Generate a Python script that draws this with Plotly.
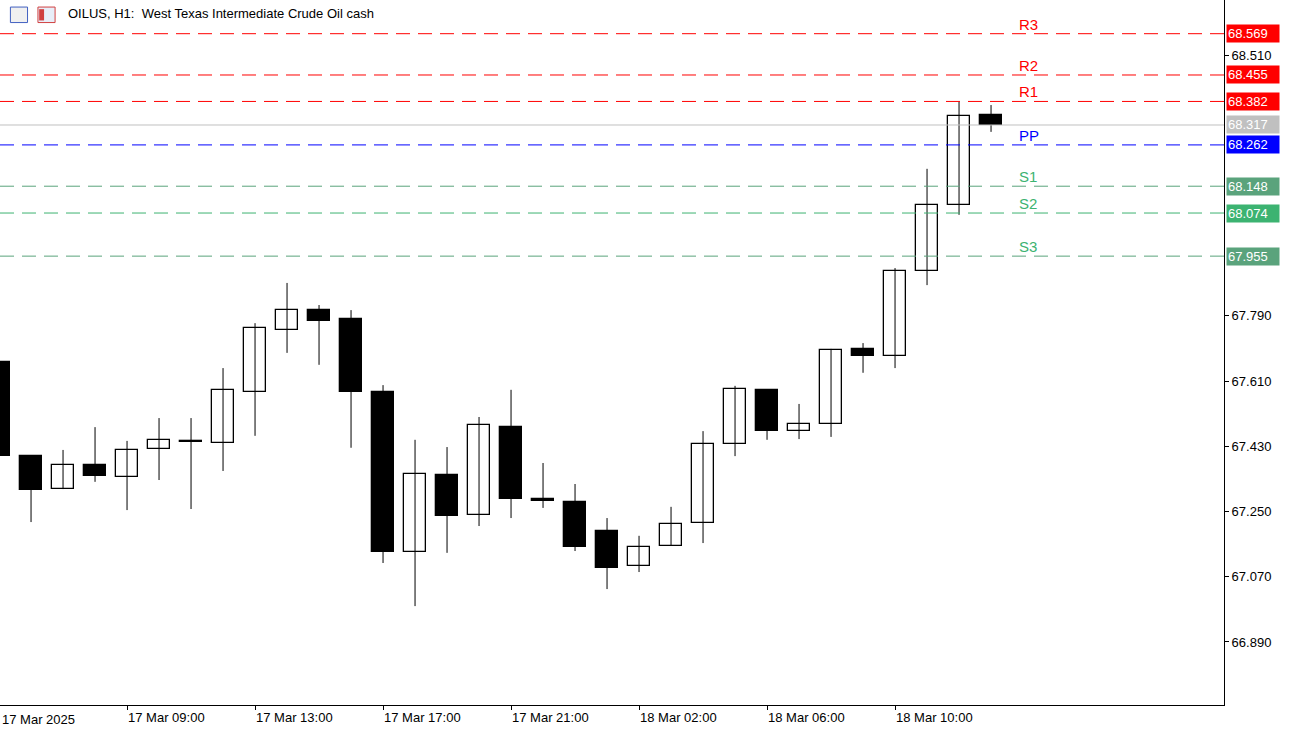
import plotly.graph_objects as go

# hourly OILUS candles, 17 Mar 05:00 -> 18 Mar 12:00
opens = [67.663, 67.403, 67.312, 67.379, 67.345, 67.423, 67.443, 67.439, 67.580, 67.751, 67.806, 67.782,
         67.580, 67.139, 67.351, 67.241, 67.483, 67.285, 67.276, 67.196, 67.100, 67.155, 67.219, 67.437,
         67.586, 67.472, 67.492, 67.699, 67.679, 67.914, 68.096, 68.345]
highs = [67.682, 67.403, 67.420, 67.483, 67.445, 67.508, 67.508, 67.646, 67.770, 67.881, 67.820, 67.806,
         67.599, 67.448, 67.428, 67.511, 67.586, 67.384, 67.326, 67.232, 67.183, 67.263, 67.472, 67.597,
         67.588, 67.547, 67.699, 67.715, 67.922, 68.196, 68.381, 68.372]
lows = [67.392, 67.221, 67.312, 67.332, 67.254, 67.337, 67.257, 67.362, 67.459, 67.688, 67.655, 67.426,
        67.108, 66.989, 67.136, 67.210, 67.232, 67.260, 67.141, 67.036, 67.083, 67.155, 67.163, 67.403,
        67.448, 67.450, 67.456, 67.633, 67.646, 67.875, 68.069, 68.298]
closes = [67.403, 67.310, 67.379, 67.348, 67.420, 67.448, 67.445, 67.586, 67.757, 67.806, 67.776, 67.580,
          67.139, 67.354, 67.238, 67.489, 67.285, 67.279, 67.152, 67.094, 67.152, 67.216, 67.437, 67.588,
          67.472, 67.492, 67.696, 67.679, 67.914, 68.096, 68.342, 68.317]

first_label = "17 Mar 2025"
tick_pos = [4, 8, 12, 16, 20, 24, 28]
tick_text = ["17 Mar 09:00", "17 Mar 13:00", "17 Mar 17:00", "17 Mar 21:00",
             "18 Mar 02:00", "18 Mar 06:00", "18 Mar 10:00"]
price_ticks = [68.510, 67.790, 67.610, 67.430, 67.250, 67.070, 66.890]

level_names = ["R3", "R2", "R1", "PP", "S1", "S2", "S3"]
level_values = [68.569, 68.455, 68.382, 68.262, 68.148, 68.074, 67.955]
level_colors = ["#ff0000", "#ff0000", "#ff0000", "#0000ff", "#5aa37c", "#3cb371", "#5aa37c"]
last_price = 68.317

x = list(range(len(opens)))

fig = go.Figure()

# wicks
wx, wy = [], []
for i in x:
    wx += [i, i, None]
    wy += [lows[i], highs[i], None]
fig.add_trace(go.Scatter(x=wx, y=wy, mode="lines", line=dict(color="black", width=1),
                         showlegend=False, hoverinfo="skip"))

# bodies (dojis get a thin body so they stay visible)
base = [min(o, c) for o, c in zip(opens, closes)]
height = [max(abs(c - o), 0.002) for o, c in zip(opens, closes)]
fill = ["white" if c > o else "black" for o, c in zip(opens, closes)]
fig.add_trace(go.Bar(x=x, y=height, base=base, width=0.68,
                     marker=dict(color=fill, line=dict(color="black", width=1.3)),
                     showlegend=False, hoverinfo="skip"))

# current price line
fig.add_shape(type="line", xref="paper", x0=0, x1=1, y0=last_price, y1=last_price,
              line=dict(color="#c0c0c0", width=1), layer="above")

for name, val, col in zip(level_names, level_values, level_colors):
    fig.add_shape(type="line", xref="paper", x0=0, x1=1, y0=val, y1=val,
                  line=dict(color=col, width=1, dash="14px,8px"), layer="above")
    txtcol = "#ff0000" if name.startswith("R") else ("#0000ff" if name == "PP" else "#3cb371")
    fig.add_annotation(x=31.8, y=val, text=name, showarrow=False, xanchor="left", yanchor="bottom",
                       font=dict(color=txtcol, size=15, family="Liberation Sans"), yshift=-1)
    fig.add_annotation(xref="paper", x=1.0016, y=val, text=f"{val:.3f}", showarrow=False,
                       xanchor="left", bgcolor=col, font=dict(color="white", size=13, family="Liberation Sans"),
                       borderpad=1, width=50, align="left")

fig.add_annotation(xref="paper", x=1.0016, y=last_price, text=f"{last_price:.3f}", showarrow=False,
                   xanchor="left", bgcolor="#c0c0c0", font=dict(color="white", size=13, family="Liberation Sans"),
                   borderpad=1, width=50, align="left")

fig.add_annotation(xref="paper", yref="paper", x=0, y=0, yshift=-5, yanchor="top", xanchor="left",
                   text=first_label, showarrow=False,
                   font=dict(color="black", size=13, family="Liberation Sans"))

fig.add_annotation(xref="paper", yref="paper", x=0, y=1, xshift=66, yshift=-4, yanchor="top", xanchor="left",
                   text="OILUS, H1:  West Texas Intermediate Crude Oil cash", showarrow=False,
                   font=dict(color="black", size=13, family="Liberation Sans"))

# small window icons next to the title
fig.add_shape(type="rect", xref="paper", yref="paper", x0=0.0085, x1=0.0225, y0=0.968, y1=0.99,
              line=dict(color="#4060c0", width=1), fillcolor="#f0f0f0")
fig.add_shape(type="rect", xref="paper", yref="paper", x0=0.031, x1=0.045, y0=0.968, y1=0.99,
              line=dict(color="#d04040", width=1), fillcolor="#e8eef8")
fig.add_shape(type="rect", xref="paper", yref="paper", x0=0.032, x1=0.036, y0=0.971, y1=0.987,
              line=dict(width=0), fillcolor="#d04040")

fig.update_layout(
    width=1294, height=732, margin=dict(l=0, r=70, t=0, b=27),
    plot_bgcolor="white", paper_bgcolor="white", bargap=0,
    font=dict(family="Liberation Sans", size=13, color="black"),
    xaxis=dict(range=[0.03, 38.28], tickvals=tick_pos, ticktext=tick_text, ticks="outside",
               ticklen=4, tickcolor="black", ticklabelposition="outside right", showgrid=False,
               showline=True, linecolor="black", zeroline=False),
    yaxis=dict(range=[66.716, 68.662], side="right", tickvals=price_ticks, tickformat=".3f",
               ticks="outside", ticklen=4, tickcolor="black", showgrid=False, showline=True,
               linecolor="black", zeroline=False),
)

fig.write_html("out.html", config={"displayModeBar": False},
               post_script="document.body.style.margin='0';")
